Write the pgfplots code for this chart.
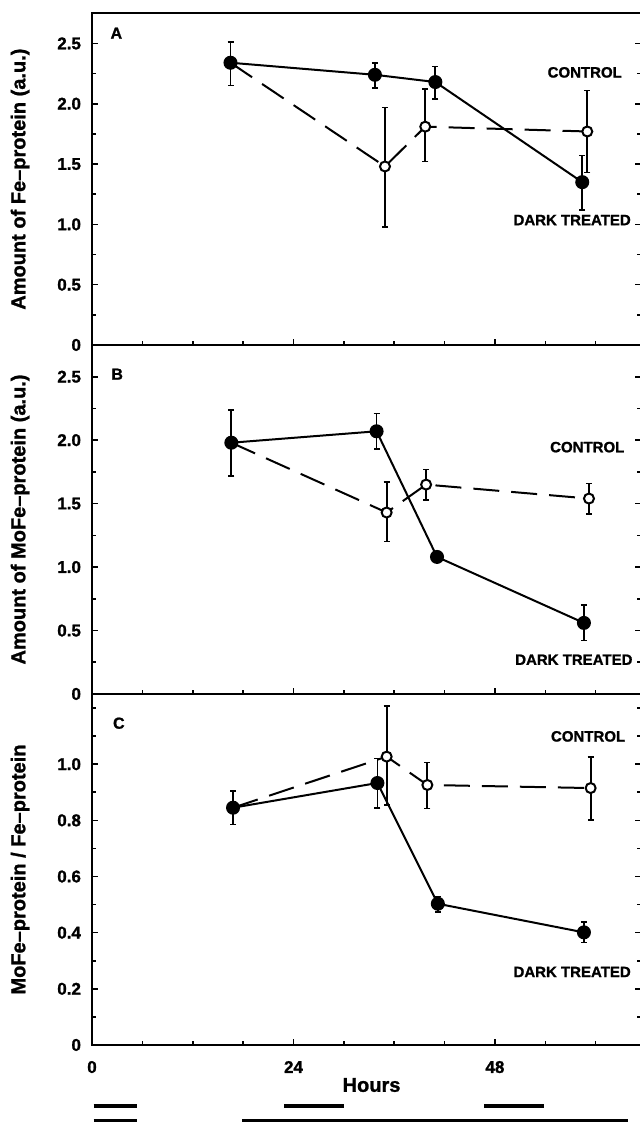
\documentclass[border=0pt]{standalone}
\usepackage{fontspec}
\setmainfont{Liberation Sans}[BoldFeatures={FakeBold=1.2}]
\usepackage{pgfplots}
\pgfplotsset{compat=1.18}

\pgfplotsset{
  panel/.style={
    scale only axis, width=274.5pt,
    xmin=0, xmax=65.4,
    xtick={0,24,48}, minor xtick={6,12,18,30,36,42,54,60},
    xtick pos=bottom, ytick pos=both, yticklabel pos=left,
    tick align=inside, major tick length=3pt, minor tick length=1.8pt,
    axis line style={line width=1pt},
    every tick/.style={black, line width=0.8pt},
    tick label style={font=\fontsize{8.5}{10}\selectfont\bfseries},
    yticklabel style={xshift=-2pt},
    ylabel style={font=\fontsize{10}{12}\selectfont\bfseries,
      at={(axis description cs:-0.131,0.5)}, anchor=center},
    clip=false,
  },
  dark/.style={black, line width=1pt, mark=*, mark size=3pt,
    mark options={solid, fill=black},
    error bars/.cd, y dir=both, y explicit,
    error bar style={solid, line width=0.9pt},
    error mark options={solid, rotate=90, mark size=1.5pt, line width=0.8pt}},
  ctrl/.style={black, line width=1pt, dash pattern=on 13pt off 6pt,
    mark=*, mark size=2.5pt, mark options={solid, fill=white, line width=1pt},
    error bars/.cd, y dir=both, y explicit,
    error bar style={solid, line width=0.9pt},
    error mark options={solid, rotate=90, mark size=1.5pt, line width=0.8pt}},
}
\tikzset{
  lab/.style={font=\fontsize{7.5}{9}\selectfont\bfseries},
  panlab/.style={font=\fontsize{8}{9}\selectfont\bfseries},
}

\begin{document}
\begin{tikzpicture}
\useasboundingbox (-46pt,-38.5pt) rectangle (273.5pt,522.5pt);

% panel A: Fe-protein
\begin{axis}[panel, at={(0pt,350pt)}, anchor=south west, height=165.85pt,
    ymin=0, ymax=2.75,
    ytick={0,0.5,1,1.5,2,2.5}, yticklabels={0,0.5,1.0,1.5,2.0,2.5},
    minor ytick={0.25,0.75,1.25,1.75,2.25},
    xticklabel=\empty,
    ylabel={Amount of Fe--protein (a.u.)}]
\addplot[ctrl] coordinates {
    (16.5,2.34) += (0,0) -= (0,0)
    (34.9,1.48) += (0,0.49) -= (0,0.50)
    (39.7,1.81) += (0,0.31) -= (0,0.29)
    (59.0,1.77) += (0,0.34) -= (0,0.34)
};
\addplot[dark] coordinates {
    (16.5,2.34) += (0,0.17) -= (0,0.19)
    (33.7,2.24) += (0,0.10) -= (0,0.11)
    (40.9,2.18) += (0,0.13) -= (0,0.14)
    (58.4,1.35) += (0,0.22) -= (0,0.23)
};
\node[panlab] at (axis cs:2.9,2.585) {A};
\node[lab] at (axis cs:58.7,2.26) {CONTROL};
\node[lab] at (axis cs:57.2,1.036) {DARK TREATED};
\end{axis}

% panel B: MoFe-protein
\begin{axis}[panel, at={(0pt,175.5pt)}, anchor=south west, height=174.5pt,
    ymin=0, ymax=2.75,
    ytick={0,0.5,1,1.5,2,2.5}, yticklabels={0,0.5,1.0,1.5,2.0,2.5},
    minor ytick={0.25,0.75,1.25,1.75,2.25},
    xticklabel=\empty,
    ylabel={Amount of MoFe--protein (a.u.)}]
\addplot[ctrl] coordinates {
    (16.6,1.98) += (0,0) -= (0,0)
    (35.1,1.43) += (0,0.24) -= (0,0.23)
    (39.8,1.65) += (0,0.12) -= (0,0.12)
    (59.2,1.54) += (0,0.12) -= (0,0.12)
};
\addplot[dark] coordinates {
    (16.6,1.98) += (0,0.26) -= (0,0.26)
    (33.9,2.07) += (0,0.14) -= (0,0.14)
    (41.1,1.08) += (0,0) -= (0,0)
    (58.6,0.56) += (0,0.14) -= (0,0.14)
};
\node[panlab] at (axis cs:3.0,2.52) {B};
\node[lab] at (axis cs:59.0,1.945) {CONTROL};
\node[lab] at (axis cs:57.4,0.27) {DARK TREATED};
\end{axis}

% panel C: ratio
\begin{axis}[panel, at={(0pt,0pt)}, anchor=south west, height=175.5pt,
    ymin=0, ymax=1.25,
    ytick={0,0.2,0.4,0.6,0.8,1.0}, yticklabels={0,0.2,0.4,0.6,0.8,1.0},
    minor ytick={0.1,0.3,0.5,0.7,0.9,1.1,1.2},
    xticklabels={0,24,48},
    xticklabel style={yshift=-4.5pt},
    xlabel={Hours},
    xlabel style={font=\fontsize{10}{12}\selectfont\bfseries,
      at={(axis cs:33.3,-0.1425)}, anchor=center},
    ylabel={MoFe--protein / Fe--protein}]
\addplot[ctrl] coordinates {
    (16.8,0.845) += (0,0) -= (0,0)
    (35.1,1.027) += (0,0.18) -= (0,0.173)
    (39.95,0.926) += (0,0.08) -= (0,0.084)
    (59.4,0.915) += (0,0.111) -= (0,0.114)
};
\addplot[dark] coordinates {
    (16.8,0.845) += (0,0.06) -= (0,0.06)
    (34.0,0.933) += (0,0.087) -= (0,0.088)
    (41.2,0.503) += (0,0.026) -= (0,0.029)
    (58.6,0.401) += (0,0.038) -= (0,0.036)
};
\node[panlab] at (axis cs:3.2,1.146) {C};
\node[lab] at (axis cs:59.1,1.099) {CONTROL};
\node[lab] at (axis cs:57.2,0.26) {DARK TREATED};
% light / dark period bars under the time axis
\draw[line width=2.2pt] (axis cs:0.2,-0.217) -- (axis cs:5.4,-0.217);
\draw[line width=2.2pt] (axis cs:22.9,-0.217) -- (axis cs:30.0,-0.217);
\draw[line width=2.2pt] (axis cs:46.7,-0.217) -- (axis cs:53.8,-0.217);
\draw[line width=2pt] (axis cs:0.2,-0.271) -- (axis cs:5.4,-0.271);
\draw[line width=2pt] (axis cs:17.9,-0.271) -- (axis cs:63.9,-0.271);
\end{axis}
\end{tikzpicture}
\end{document}
